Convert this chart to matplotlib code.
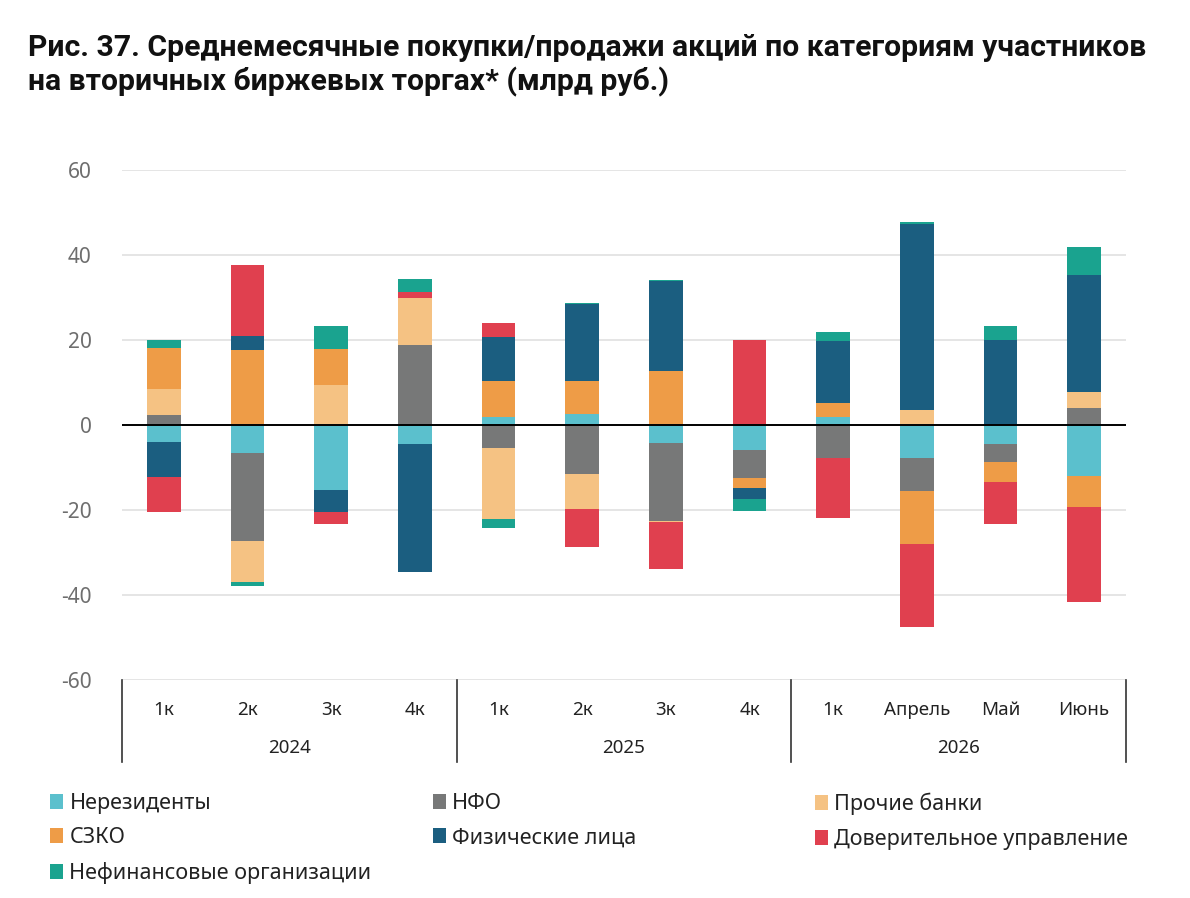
import numpy as np
import matplotlib.pyplot as plt
from matplotlib.patches import Patch

plt.rcParams['font.family'] = ['Noto Sans', 'DejaVu Sans']
plt.rcParams['axes.unicode_minus'] = False

# Categories
periods = ['1к', '2к', '3к', '4к', '1к', '2к', '3к', '4к', '1к', 'Апрель', 'Май', 'Июнь']
years = ['2024', '2025', '2026']

# Series (mlrd rub), one value per period
nonres   = [-4.0, -6.5, -15.3, -4.5, 1.8, 2.5, -4.2, -5.9, 1.9, -7.8, -4.4, -11.9]
nfo      = [2.4, -20.8, 0.0, 18.8, -5.3, -11.5, -18.3, -6.6, -7.8, -7.7, -4.2, 3.9]
banks    = [6.1, -9.6, 9.3, 11.2, -16.9, -8.3, -0.4, 0.0, 0.0, 3.6, 0.0, 3.8]
szko     = [9.6, 17.6, 8.5, 0.0, 8.5, 7.8, 12.6, -2.4, 3.3, -12.5, -4.7, -7.4]
retail   = [-8.2, 3.3, -5.1, -30.0, 10.5, 18.1, 21.3, -2.6, 14.6, 43.8, 19.9, 27.7]
trust    = [-8.2, 16.7, -3.0, 1.3, 3.3, -8.9, -11.0, 20.0, -14.0, -19.6, -10.0, -22.4]
nonfin   = [2.0, -0.9, 5.6, 3.0, -2.1, 0.3, 0.3, -2.7, 2.1, 0.4, 3.3, 6.5]

series = [
    ('Нерезиденты', nonres, '#5bc0cd'),
    ('НФО', nfo, '#777878'),
    ('Прочие банки', banks, '#f5c283'),
    ('СЗКО', szko, '#ee9c47'),
    ('Физические лица', retail, '#1b5e80'),
    ('Доверительное управление', trust, '#e0404f'),
    ('Нефинансовые организации', nonfin, '#1aa38f'),
]

fig = plt.figure(figsize=(11.9, 8.98), dpi=100)
ax = fig.add_axes([122/1190, 1 - 680/898, (1126-122)/1190, 510/898])

x = np.arange(len(periods))
pos_base = np.zeros(len(periods))
neg_base = np.zeros(len(periods))
for name, vals, color in series:
    v = np.array(vals)
    base = np.where(v >= 0, pos_base, neg_base)
    ax.bar(x, v, bottom=base, width=0.4, color=color, zorder=3)
    pos_base += np.where(v > 0, v, 0)
    neg_base += np.where(v < 0, v, 0)

ax.set_xlim(-0.5, len(periods) - 0.5)
ax.set_ylim(-60, 60)
ax.set_yticks(np.arange(-60, 61, 20))
ax.grid(axis='y', color='#e3e3e3', linewidth=1.3, zorder=0)
ax.axhline(0, color='black', linewidth=1.4, zorder=4)
for s in ax.spines.values():
    s.set_visible(False)
ax.tick_params(axis='y', length=0, pad=22, labelsize=15, labelcolor='#6e6e6e')
ax.set_xticks(x)
ax.set_xticklabels(periods, fontsize=13.5, color='#222222')
ax.tick_params(axis='x', length=0, pad=15)

# group separators and year labels
for b in [-0.5, 3.5, 7.5, 11.5]:
    ax.plot([b, b], [0, -0.16], transform=ax.get_xaxis_transform(),
            color='#333333', linewidth=1.2, clip_on=False)
for i, yr in enumerate(years):
    ax.text(4 * i + 1.5, -0.134, yr, transform=ax.get_xaxis_transform(),
            ha='center', va='center', fontsize=13.5, color='#222222')

fig.text(28/1190, 1 - 34/898,
         'Рис. 37. Среднемесячные покупки/продажи акций по категориям участников\n'
         'на вторичных биржевых торгах* (млрд руб.)',
         ha='left', va='top', fontsize=21.7, fontweight='bold', linespacing=1.22,
         color='#111111', family=['Roboto', 'DejaVu Sans'])

# legend in three columns
cols = [[0, 3, 6], [1, 4], [2, 5]]
col_x = [50/1190, 433/1190, 815/1190]
for cx, idxs in zip(col_x, cols):
    handles = [Patch(facecolor=series[i][2], label=series[i][0]) for i in idxs]
    fig.legend(handles=handles, loc='upper left', bbox_to_anchor=(cx, 1 - 793/898),
               frameon=False, fontsize=15.5, handlelength=0.6, handleheight=0.7,
               handletextpad=0.3, labelspacing=0.62, borderpad=0, borderaxespad=0,
               labelcolor='#222222')

fig.savefig('out.png', dpi=100)
